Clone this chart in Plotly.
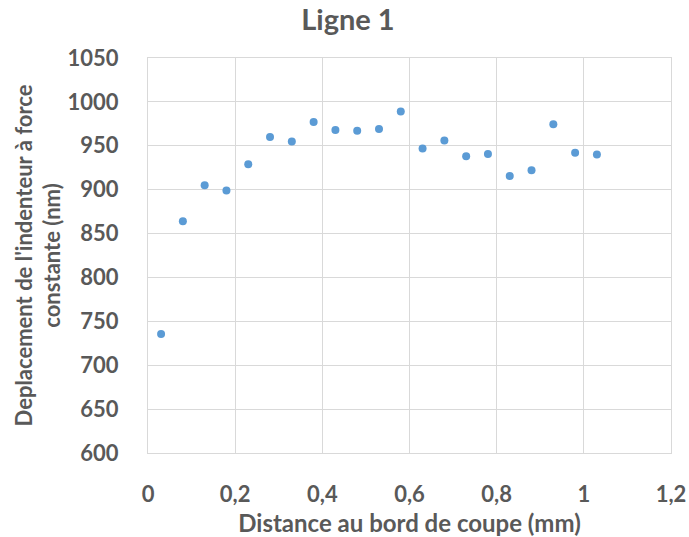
import plotly.graph_objects as go

distance_mm = [0.03, 0.08, 0.13, 0.18, 0.23, 0.28, 0.33, 0.38, 0.43, 0.48, 0.53,
               0.58, 0.63, 0.68, 0.73, 0.78, 0.83, 0.88, 0.93, 0.98, 1.03]
deplacement_nm = [735.5, 864, 905, 899, 929, 960, 955, 977, 968, 967, 969,
                  989, 947, 956, 938, 940.5, 915.5, 922, 974.5, 942, 940]

x_tickvals = [0, 0.2, 0.4, 0.6, 0.8, 1.0, 1.2]
x_ticktext = ["0", "0,2", "0,4", "0,6", "0,8", "1", "1,2"]
y_tickvals = [600, 650, 700, 750, 800, 850, 900, 950, 1000, 1050]

FONT = "Lato"
GREY = "#595959"
GRID = "#d9d9d9"

fig = go.Figure(go.Scatter(
    x=distance_mm, y=deplacement_nm, mode="markers",
    marker=dict(color="#5B9BD5", size=8),
))

fig.update_layout(
    width=689, height=537,
    margin=dict(l=148, r=18, t=58, b=84, autoexpand=False),
    paper_bgcolor="white", plot_bgcolor="white",
    showlegend=False,
    font=dict(family=FONT, color=GREY),
    title=dict(text="Ligne 1", x=0.505, xref="container", xanchor="center",
               y=1 - 20 / 537, yref="container", yanchor="middle",
               font=dict(family=FONT, size=29, color=GREY, weight="bold")),
)
fig.update_xaxes(
    range=[0, 1.2], tickvals=x_tickvals, ticktext=x_ticktext,
    showgrid=True, gridcolor=GRID, gridwidth=1,
    showline=True, linecolor=GRID, mirror=True, zeroline=False,
    tickfont=dict(family=FONT, size=22, color=GREY, weight="bold"),
    ticks="", ticklabelstandoff=22, automargin=False,
    title=dict(text="Distance au bord de coupe (mm)", standoff=12,
               font=dict(family=FONT, size=24, color=GREY, weight="bold")),
)
fig.update_yaxes(
    range=[600, 1050], tickvals=y_tickvals,
    showgrid=True, gridcolor=GRID, gridwidth=1,
    showline=True, linecolor=GRID, mirror=True, zeroline=False,
    tickfont=dict(family=FONT, size=22, color=GREY, weight="bold"),
    ticks="", ticklabelstandoff=24, automargin=False,
    title=dict(text="Deplacement de l'indenteur à force<br>constante (nm)", standoff=0,
               font=dict(family=FONT, size=22, color=GREY, weight="bold")),
)

fig.write_html(
    "out.html",
    config={"displayModeBar": False},
    post_script="document.body.style.margin='0';document.body.style.overflow='hidden';",
)
